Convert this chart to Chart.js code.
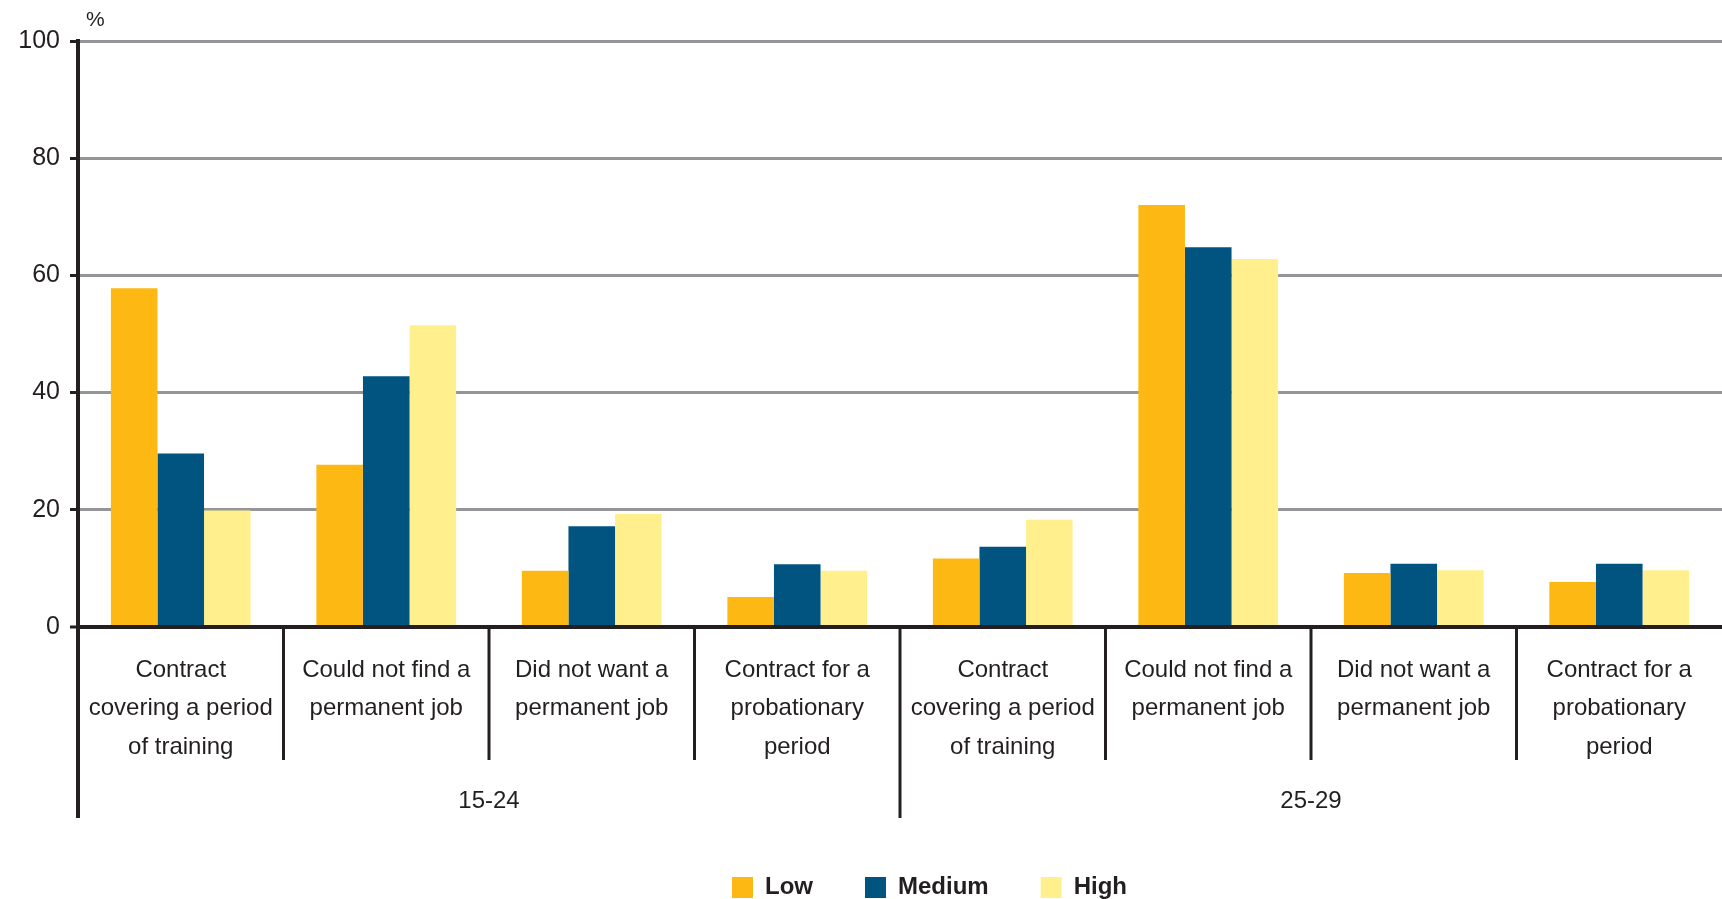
<!DOCTYPE html>
<html>
<head>
<meta charset="utf-8">
<style>
  html, body { margin: 0; padding: 0; background: #ffffff; }
  #wrap { width: 1722px; height: 899px; position: relative; }
  #chart { display: block; }
</style>
<script src="https://cdn.jsdelivr.net/npm/chart.js@4.4.1/dist/chart.umd.min.js"></script>
</head>
<body>
<div id="wrap"><canvas id="chart" width="1722" height="899"></canvas></div>
<script>
// Reasons for holding a temporary contract, by age group and education level (%)
const categories = [
  ['Contract', 'covering a period', 'of training'],
  ['Could not find a', 'permanent job'],
  ['Did not want a', 'permanent job'],
  ['Contract for a', 'probationary', 'period'],
  ['Contract', 'covering a period', 'of training'],
  ['Could not find a', 'permanent job'],
  ['Did not want a', 'permanent job'],
  ['Contract for a', 'probationary', 'period']
];
const ageGroups = ['15-24', '25-29'];
const categoriesPerGroup = 4;

const lowValues    = [57.8, 27.7,  9.6,  5.1, 11.7, 72.0,  9.2,  7.7];
const mediumValues = [29.6, 42.8, 17.2, 10.7, 13.7, 64.8, 10.8, 10.8];
const highValues   = [19.9, 51.5, 19.3,  9.6, 18.3, 62.8,  9.7,  9.7];

const seriesNames = ['Low', 'Medium', 'High'];
const yTicks = [0, 20, 40, 60, 80, 100];
const unitLabel = '%';

const INK = '#231F20';
const GRID = '#939598';
const FONT = "'Liberation Sans', Arial, sans-serif";

// Layout of the plotting area inside the 1722 x 899 canvas
const PLOT_LEFT = 78;
const PLOT_TOP = 41;
const PLOT_BOTTOM = 627;
const LEGEND_FIRST_BOX_X = 732;
const LEGEND_BOX_TOP = 877;

// Category separators, age-group labels and the unit label
const axisDecorations = {
  id: 'axisDecorations',
  afterLayout(chart) {
    const lg = chart.legend;
    if (!lg) return;
    const pad = lg.options.labels.padding;
    const lw = lg.lineWidths ? lg.lineWidths[0] : 0;
    const startX = (lg.left + pad + lg.right - lw) / 2;
    const dx = LEGEND_FIRST_BOX_X - startX;
    lg.left += dx; lg.right += dx;
    const fontSize = lg.options.labels.font.size;
    const boxH = lg.options.labels.boxHeight;
    const newTop = LEGEND_BOX_TOP - Math.max((fontSize - boxH) / 2, 0) - pad;
    const dy = newTop - lg.top;
    lg.top += dy; lg.bottom += dy;
  },
  afterDraw(chart) {
    const { ctx } = chart;
    const x = chart.scales.x;
    const y = chart.scales.y;
    const base = y.getPixelForValue(0);
    const n = categories.length;

    ctx.save();
    ctx.strokeStyle = INK;
    ctx.lineCap = 'butt';
    // separators between categories; long ones mark the start of each age group
    for (let i = 0; i < n; i++) {
      const px = x.getPixelForValue(i - 0.5);
      const isGroupEdge = i % categoriesPerGroup === 0;
      ctx.lineWidth = i === 0 ? 4 : 3;
      ctx.beginPath();
      ctx.moveTo(px, base);
      ctx.lineTo(px, base + (isGroupEdge ? 191 : 133));
      ctx.stroke();
    }

    ctx.fillStyle = INK;
    ctx.font = '24px ' + FONT;
    ctx.textAlign = 'center';
    ctx.textBaseline = 'middle';
    ageGroups.forEach((g, gi) => {
      const a = x.getPixelForValue(gi * categoriesPerGroup - 0.5);
      const b = x.getPixelForValue((gi + 1) * categoriesPerGroup - 0.5);
      ctx.fillText(g, (a + b) / 2, base + 174);
    });

    ctx.font = '21px ' + FONT;
    ctx.textAlign = 'left';
    ctx.fillText(unitLabel, y.right + 8, y.top - 21);
    ctx.restore();
  }
};

const ctx = document.getElementById('chart');
new Chart(ctx, {
  type: 'bar',
  data: {
    labels: categories,
    datasets: [
      { label: seriesNames[0], data: lowValues,    backgroundColor: '#FDB813' },
      { label: seriesNames[1], data: mediumValues, backgroundColor: '#00547F' },
      { label: seriesNames[2], data: highValues,   backgroundColor: '#FFF08D' }
    ]
  },
  options: {
    responsive: false,
    animation: false,
    devicePixelRatio: 1,
    layout: { padding: { top: PLOT_TOP, left: 0, right: 0, bottom: 0 } },
    datasets: {
      bar: { categoryPercentage: 0.68, barPercentage: 1.0, borderWidth: 0 }
    },
    scales: {
      x: {
        offset: true,
        grid: { display: false, drawTicks: false },
        border: { display: true, color: INK, width: 4 },
        ticks: {
          autoSkip: false,
          maxRotation: 0,
          minRotation: 0,
          padding: 24,
          color: INK,
          font: { family: FONT, size: 24, lineHeight: 1.6 }
        },
        afterFit(scale) {
          const legendH = scale.chart.legend ? scale.chart.legend.height : 0;
          scale.height = scale.chart.height - PLOT_BOTTOM - legendH;
        }
      },
      y: {
        min: 0,
        max: 100,
        afterBuildTicks(scale) {
          scale.ticks = yTicks.map(v => ({ value: v }));
        },
        grid: {
          color: c => (c.tick && c.tick.value === 0 ? INK : GRID),
          lineWidth: c => (c.tick && c.tick.value === 0 ? 4 : 3),
          drawTicks: true,
          tickLength: 8,
          tickColor: INK,
          tickWidth: 3
        },
        border: { display: true, color: INK, width: 4 },
        ticks: {
          padding: 10,
          color: INK,
          font: { family: FONT, size: 25 }
        },
        afterFit(scale) {
          scale.width = PLOT_LEFT;
        }
      }
    },
    plugins: {
      legend: {
        position: 'bottom',
        labels: {
          boxWidth: 21,
          boxHeight: 21,
          padding: 52,
          color: INK,
          font: { family: FONT, size: 24, weight: 'bold' }
        }
      },
      tooltip: { enabled: false },
      title: { display: false }
    }
  },
  plugins: [axisDecorations]
});
</script>
</body>
</html>
